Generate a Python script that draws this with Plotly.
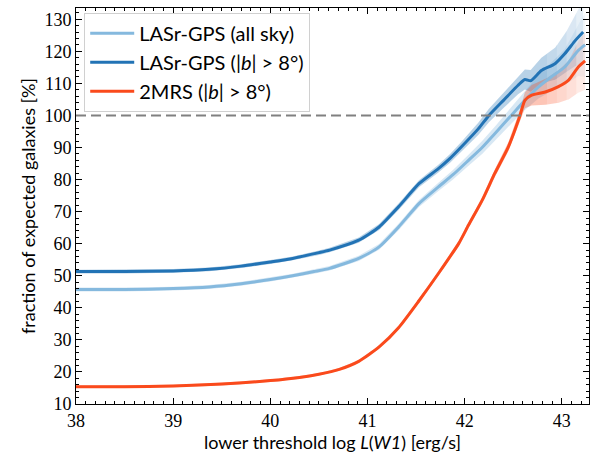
import numpy as np
import plotly.graph_objects as go

# LASr-GPS, |b| > 8 deg
x_gps_b = [38.0, 38.5, 39.0, 39.37, 39.7, 40.0, 40.23, 40.5, 40.61, 40.91, 41.12, 41.32,
           41.53, 41.73, 41.85, 41.97, 42.14, 42.25, 42.4, 42.55, 42.62, 42.68,
           42.79, 42.93, 43.03, 43.14, 43.22]
y_gps_b = [51.3, 51.3, 51.5, 52.0, 53.0, 54.3, 55.4, 57.2, 58.0, 61.1, 65.2, 71.5,
           78.7, 83.4, 86.6, 90.3, 95.8, 100.0, 104.7, 109.4, 111.2, 110.8,
           114.0, 116.1, 119.2, 123.4, 126.0]
e_gps_b = [0.6, 0.6, 0.6, 0.6, 0.6, 0.6, 0.6, 0.7, 0.7, 0.8, 0.9, 1.0,
           1.1, 1.2, 1.4, 1.6, 1.9, 2.1, 2.4, 2.8, 3.1, 3.4,
           4.0, 5.0, 6.0, 8.0, 10.0]

# LASr-GPS, all sky
x_gps_all = [38.0, 38.5, 39.0, 39.37, 39.7, 40.0, 40.23, 40.45, 40.61, 40.91, 41.12, 41.32,
             41.53, 41.73, 41.88, 42.04, 42.18, 42.31, 42.48, 42.62, 42.76, 42.89,
             43.03, 43.17, 43.24]
y_gps_all = [45.7, 45.7, 46.0, 46.5, 47.5, 48.8, 50.0, 51.3, 52.3, 55.4, 59.0, 65.2,
             72.5, 77.7, 81.5, 86.0, 90.0, 94.3, 100.0, 104.7, 108.9, 112.0,
             115.1, 120.3, 122.0]
e_gps_all = [0.6, 0.6, 0.6, 0.6, 0.6, 0.6, 0.6, 0.7, 0.7, 0.8, 0.9, 1.0,
             1.1, 1.3, 1.5, 1.7, 2.0, 2.2, 2.6, 3.0, 3.6, 4.5,
             5.5, 8.0, 10.0]

# 2MRS, |b| > 8 deg
x_2mrs = [38.0, 38.5, 39.0, 39.5, 40.0, 40.3, 40.5, 40.71, 40.91, 41.12, 41.32, 41.53,
          41.73, 41.94, 42.04, 42.18, 42.31, 42.45, 42.57, 42.62, 42.69, 42.83, 42.96,
          43.07, 43.17, 43.24]
y_2mrs = [15.4, 15.4, 15.6, 16.2, 17.3, 18.3, 19.3, 20.8, 23.3, 27.8, 33.8, 42.2,
          50.7, 60.1, 65.8, 73.5, 81.9, 90.2, 100.0, 104.7, 106.3, 107.3, 108.9,
          111.0, 115.1, 117.0]
e_2mrs = [0.4, 0.4, 0.4, 0.4, 0.4, 0.4, 0.4, 0.4, 0.4, 0.5, 0.5, 0.6,
          0.7, 0.8, 0.9, 1.0, 1.2, 1.4, 1.8, 2.5, 3.2, 4.0, 5.0,
          6.0, 8.0, 9.0]

series = [
    ("LASr-GPS (all sky)", x_gps_all, y_gps_all, e_gps_all, "#85b9de", (133, 185, 222)),
    ("LASr-GPS (|<i>b</i>| > 8°)", x_gps_b, y_gps_b, e_gps_b, "#2273b5", (34, 115, 181)),
    ("2MRS (|<i>b</i>| > 8°)", x_2mrs, y_2mrs, e_2mrs, "#fa4a1c", (250, 74, 28)),
]

# band opacity fades out toward the bright end where statistics get poor
fade_bounds = [38.0, 42.85, 42.95, 43.05, 43.15, 43.3]
fade_alpha = [0.32, 0.27, 0.22, 0.17, 0.11]

fig = go.Figure()

for name, xs, ys, es, col, rgb in series:
    xs = np.array(xs); ys = np.array(ys); es = np.array(es)
    for lo, hi, a in zip(fade_bounds[:-1], fade_bounds[1:], fade_alpha):
        hi = min(hi, xs[-1])
        if lo >= hi:
            continue
        inner = xs[(xs > lo) & (xs < hi)]
        sx = np.concatenate([[lo], inner, [hi]])
        sy = np.interp(sx, xs, ys)
        se = np.interp(sx, xs, es)
        fig.add_trace(go.Scatter(
            x=np.concatenate([sx, sx[::-1]]),
            y=np.concatenate([sy + se, (sy - se)[::-1]]),
            fill="toself", fillcolor=f"rgba({rgb[0]},{rgb[1]},{rgb[2]},{a:.3f})",
            line=dict(width=0), hoverinfo="skip", showlegend=False, mode="lines"))

for name, xs, ys, es, col, rgb in series:
    fig.add_trace(go.Scatter(
        x=xs, y=ys, mode="lines", name=name,
        line=dict(color=col, width=3, shape="spline", smoothing=0.6)))

# 100 % reference level
fig.add_hline(y=100, line=dict(color="#808080", width=2, dash="10px,5px"))

serif = "Liberation Serif"
sans = "Lato"

axis_common = dict(
    showline=True, linecolor="black", linewidth=1, mirror="ticks",
    ticks="inside", ticklen=6, tickwidth=1, tickcolor="black",
    showgrid=False, zeroline=False,
    tickfont=dict(family=serif, size=18, color="black"),
)

fig.update_xaxes(
    range=[38, 43.28], tick0=38, dtick=1,
    minor=dict(ticks="inside", ticklen=3, dtick=0.1, tickcolor="black"),
    title=dict(text="lower threshold log <i>L</i>(<i>W1</i>) [erg/s]",
               font=dict(family=sans, size=18, color="black"), standoff=6),
    **axis_common)
fig.update_yaxes(
    range=[10, 133.5], tick0=10, dtick=10,
    minor=dict(ticks="inside", ticklen=3, dtick=2, tickcolor="black"),
    title=dict(text="fraction of expected galaxies [%]",
               font=dict(family=sans, size=18, color="black"), standoff=4),
    **axis_common)

fig.update_layout(
    width=596, height=458,
    margin=dict(l=76, r=7, t=8, b=54),
    plot_bgcolor="white", paper_bgcolor="white",
    legend=dict(x=0.016, y=0.988, xanchor="left", yanchor="top",
                bgcolor="rgba(255,255,255,0.85)", bordercolor="#d0d0d0", borderwidth=1,
                font=dict(family=sans, size=20, color="black"),
                itemwidth=44, tracegroupgap=0),
    showlegend=True,
)

fig.write_html("out.html")
